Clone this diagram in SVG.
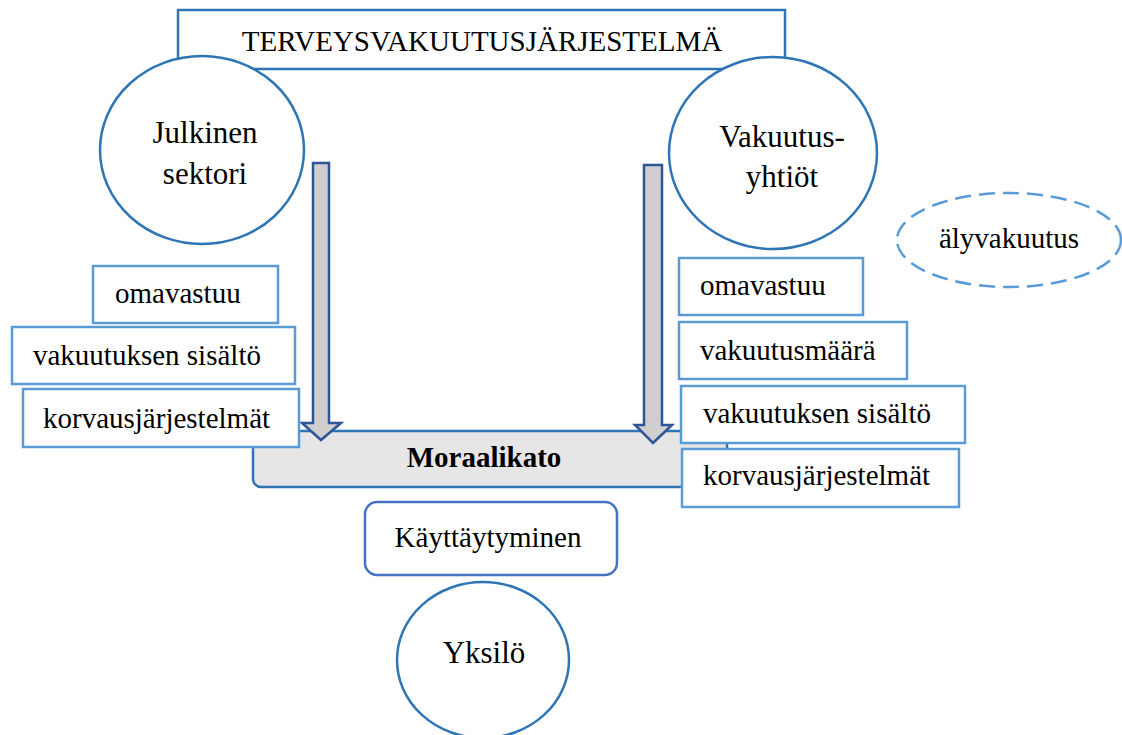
<svg xmlns="http://www.w3.org/2000/svg" width="1122" height="735" viewBox="0 0 1122 735">
  <style>
    text { font-family: "Liberation Serif", "Times New Roman", serif; fill: #000; }
    .lbl { font-size: 29px; }
    .big { font-size: 31px; }
    .mid { text-anchor: middle; }
    .frame { fill: #fff; stroke: #2e75b6; stroke-width: 2.5; }
    .item { fill: #fff; stroke: #5b9bd5; stroke-width: 2.5; }
    .block { fill: #d0cece; stroke: #2f5597; stroke-width: 2.5; stroke-linejoin: miter; }
  </style>

  <!-- system title -->
  <g id="system">
    <rect class="frame" x="178" y="10" width="607" height="59"/>
    <text class="lbl mid" x="482" y="51">TERVEYSVAKUUTUSJÄRJESTELMÄ</text>
  </g>

  <!-- actors -->
  <g id="public-sector">
    <ellipse class="frame" cx="202" cy="150" rx="102" ry="94"/>
    <text class="big mid" x="205" y="143">Julkinen</text>
    <text class="big mid" x="205" y="184">sektori</text>
  </g>
  <g id="insurers">
    <ellipse class="frame" cx="773" cy="153" rx="104" ry="96"/>
    <text class="big mid" x="782" y="147">Vakuutus-</text>
    <text class="big mid" x="782" y="187">yhtiöt</text>
  </g>
  <g id="smart-insurance">
    <ellipse cx="1009" cy="240" rx="112" ry="47" fill="#fff" stroke="#5b9bd5" stroke-width="2.5" stroke-dasharray="16 8"/>
    <text class="lbl mid" x="1009" y="248">älyvakuutus</text>
  </g>

  <!-- moral hazard band -->
  <g id="moral-hazard">
    <rect x="253" y="431" width="474" height="56" rx="8" fill="#e7e6e6" stroke="#2e75b6" stroke-width="2.5"/>
    <text class="lbl mid" x="484" y="467" font-weight="bold">Moraalikato</text>
  </g>

  <!-- block arrows from the actors down to the moral hazard band -->
  <g id="connectors">
    <path class="block" d="M313,163 H329 V423 H341 L321,440 L302,423 H313 Z"/>
    <path class="block" d="M644,165 H662 V425 H672 L653,443 L635,425 H644 Z"/>
  </g>

  <!-- public sector levers -->
  <g id="left-deductible">
    <rect class="item" x="93" y="266" width="185" height="57"/>
    <text class="lbl" x="115" y="303">omavastuu</text>
  </g>
  <g id="left-coverage">
    <rect class="item" x="12" y="327" width="283" height="57"/>
    <text class="lbl" x="33" y="365">vakuutuksen sisältö</text>
  </g>
  <g id="left-compensation">
    <rect class="item" x="23" y="389" width="276" height="58"/>
    <text class="lbl" x="43" y="428">korvausjärjestelmät</text>
  </g>

  <!-- insurer levers -->
  <g id="right-deductible">
    <rect class="item" x="679" y="258" width="184" height="57"/>
    <text class="lbl" x="700" y="295">omavastuu</text>
  </g>
  <g id="right-sum">
    <rect class="item" x="679" y="322" width="228" height="57"/>
    <text class="lbl" x="700" y="360">vakuutusmäärä</text>
  </g>
  <g id="right-coverage">
    <rect class="item" x="681" y="386" width="284" height="57"/>
    <text class="lbl" x="703" y="423">vakuutuksen sisältö</text>
  </g>
  <g id="right-compensation">
    <rect class="item" x="682" y="449" width="277" height="58"/>
    <text class="lbl" x="703" y="485">korvausjärjestelmät</text>
  </g>

  <!-- individual -->
  <g id="behaviour">
    <rect x="365" y="502" width="252" height="73" rx="12" fill="#fff" stroke="#4472c4" stroke-width="2.5"/>
    <text class="lbl mid" x="488" y="547">Käyttäytyminen</text>
  </g>
  <g id="individual">
    <ellipse class="frame" cx="483" cy="660" rx="86" ry="78"/>
    <text class="big mid" x="484" y="663">Yksilö</text>
  </g>
</svg>
